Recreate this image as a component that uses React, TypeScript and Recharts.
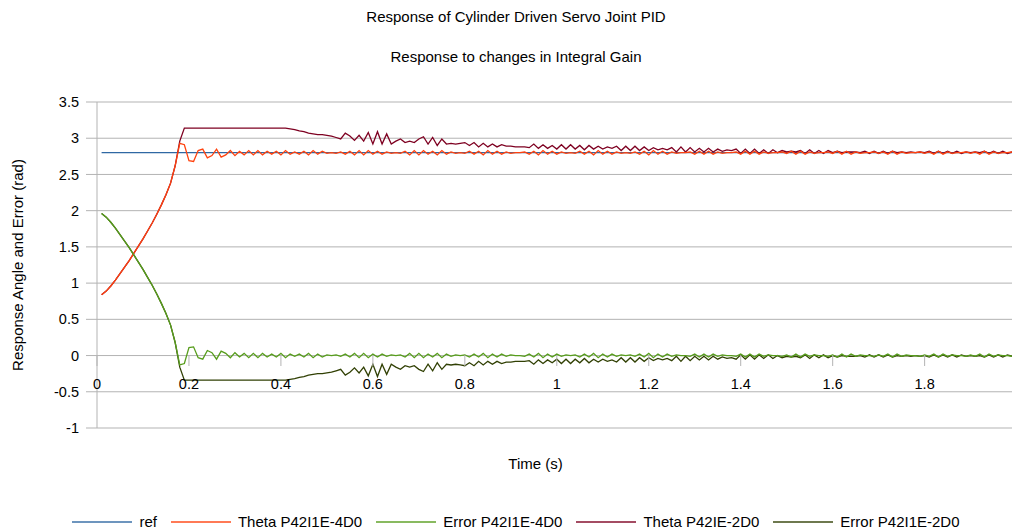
import React from 'react';
import { LineChart, Line, XAxis, YAxis, CartesianGrid, Label } from 'recharts';

// time samples (s)
const time = [
  0.01, 0.02, 0.03, 0.04, 0.05, 0.06, 0.07, 0.08, 0.09, 0.1,
  0.11, 0.12, 0.13, 0.14, 0.15, 0.16, 0.17, 0.18, 0.19, 0.2,
  0.21, 0.22, 0.23, 0.24, 0.25, 0.26, 0.27, 0.28, 0.29, 0.3,
  0.31, 0.32, 0.33, 0.34, 0.35, 0.36, 0.37, 0.38, 0.39, 0.4,
  0.41, 0.42, 0.43, 0.44, 0.45, 0.46, 0.47, 0.48, 0.49, 0.5,
  0.51, 0.52, 0.53, 0.54, 0.55, 0.56, 0.57, 0.58, 0.59, 0.6,
  0.61, 0.62, 0.63, 0.64, 0.65, 0.66, 0.67, 0.68, 0.69, 0.7,
  0.71, 0.72, 0.73, 0.74, 0.75, 0.76, 0.77, 0.78, 0.79, 0.8,
  0.81, 0.82, 0.83, 0.84, 0.85, 0.86, 0.87, 0.88, 0.89, 0.9,
  0.91, 0.92, 0.93, 0.94, 0.95, 0.96, 0.97, 0.98, 0.99, 1.0,
  1.01, 1.02, 1.03, 1.04, 1.05, 1.06, 1.07, 1.08, 1.09, 1.1,
  1.11, 1.12, 1.13, 1.14, 1.15, 1.16, 1.17, 1.18, 1.19, 1.2,
  1.21, 1.22, 1.23, 1.24, 1.25, 1.26, 1.27, 1.28, 1.29, 1.3,
  1.31, 1.32, 1.33, 1.34, 1.35, 1.36, 1.37, 1.38, 1.39, 1.4,
  1.41, 1.42, 1.43, 1.44, 1.45, 1.46, 1.47, 1.48, 1.49, 1.5,
  1.51, 1.52, 1.53, 1.54, 1.55, 1.56, 1.57, 1.58, 1.59, 1.6,
  1.61, 1.62, 1.63, 1.64, 1.65, 1.66, 1.67, 1.68, 1.69, 1.7,
  1.71, 1.72, 1.73, 1.74, 1.75, 1.76, 1.77, 1.78, 1.79, 1.8,
  1.81, 1.82, 1.83, 1.84, 1.85, 1.86, 1.87, 1.88, 1.89, 1.9,
  1.91, 1.92, 1.93, 1.94, 1.95, 1.96, 1.97, 1.98, 1.99,
];

// ref
const refAngle = [
  2.8, 2.8, 2.8, 2.8, 2.8, 2.8, 2.8, 2.8, 2.8, 2.8,
  2.8, 2.8, 2.8, 2.8, 2.8, 2.8, 2.8, 2.8, 2.8, 2.8,
  2.8, 2.8, 2.8, 2.8, 2.8, 2.8, 2.8, 2.8, 2.8, 2.8,
  2.8, 2.8, 2.8, 2.8, 2.8, 2.8, 2.8, 2.8, 2.8, 2.8,
  2.8, 2.8, 2.8, 2.8, 2.8, 2.8, 2.8, 2.8, 2.8, 2.8,
  2.8, 2.8, 2.8, 2.8, 2.8, 2.8, 2.8, 2.8, 2.8, 2.8,
  2.8, 2.8, 2.8, 2.8, 2.8, 2.8, 2.8, 2.8, 2.8, 2.8,
  2.8, 2.8, 2.8, 2.8, 2.8, 2.8, 2.8, 2.8, 2.8, 2.8,
  2.8, 2.8, 2.8, 2.8, 2.8, 2.8, 2.8, 2.8, 2.8, 2.8,
  2.8, 2.8, 2.8, 2.8, 2.8, 2.8, 2.8, 2.8, 2.8, 2.8,
  2.8, 2.8, 2.8, 2.8, 2.8, 2.8, 2.8, 2.8, 2.8, 2.8,
  2.8, 2.8, 2.8, 2.8, 2.8, 2.8, 2.8, 2.8, 2.8, 2.8,
  2.8, 2.8, 2.8, 2.8, 2.8, 2.8, 2.8, 2.8, 2.8, 2.8,
  2.8, 2.8, 2.8, 2.8, 2.8, 2.8, 2.8, 2.8, 2.8, 2.8,
  2.8, 2.8, 2.8, 2.8, 2.8, 2.8, 2.8, 2.8, 2.8, 2.8,
  2.8, 2.8, 2.8, 2.8, 2.8, 2.8, 2.8, 2.8, 2.8, 2.8,
  2.8, 2.8, 2.8, 2.8, 2.8, 2.8, 2.8, 2.8, 2.8, 2.8,
  2.8, 2.8, 2.8, 2.8, 2.8, 2.8, 2.8, 2.8, 2.8, 2.8,
  2.8, 2.8, 2.8, 2.8, 2.8, 2.8, 2.8, 2.8, 2.8, 2.8,
  2.8, 2.8, 2.8, 2.8, 2.8, 2.8, 2.8, 2.8, 2.8,
];

// Theta P42I1E-4D0
const thetaI1E4 = [
  0.84, 0.89, 0.96, 1.04, 1.13, 1.22, 1.31, 1.41, 1.51, 1.61,
  1.72, 1.83, 1.95, 2.08, 2.22, 2.38, 2.62, 2.93, 2.91, 2.69,
  2.68, 2.83, 2.85, 2.73, 2.76, 2.85, 2.74, 2.77, 2.83, 2.76,
  2.82, 2.77, 2.83, 2.77, 2.83, 2.77, 2.82, 2.78, 2.82, 2.77,
  2.83, 2.78, 2.81, 2.78, 2.82, 2.77, 2.83, 2.78, 2.82, 2.79,
  2.80, 2.79, 2.81, 2.78, 2.82, 2.77, 2.83, 2.77, 2.83, 2.78,
  2.82, 2.78, 2.81, 2.79, 2.80, 2.79, 2.82, 2.77, 2.83, 2.77,
  2.83, 2.78, 2.82, 2.77, 2.83, 2.78, 2.81, 2.79, 2.80, 2.79,
  2.82, 2.78, 2.82, 2.77, 2.83, 2.78, 2.82, 2.78, 2.81, 2.79,
  2.80, 2.80, 2.81, 2.78, 2.82, 2.77, 2.83, 2.78, 2.82, 2.78,
  2.81, 2.79, 2.80, 2.79, 2.82, 2.78, 2.82, 2.77, 2.83, 2.78,
  2.82, 2.78, 2.81, 2.79, 2.80, 2.79, 2.81, 2.78, 2.82, 2.77,
  2.83, 2.78, 2.82, 2.78, 2.81, 2.79, 2.80, 2.80, 2.81, 2.78,
  2.82, 2.78, 2.82, 2.78, 2.81, 2.79, 2.80, 2.80, 2.81, 2.78,
  2.82, 2.78, 2.82, 2.78, 2.81, 2.79, 2.80, 2.80, 2.81, 2.79,
  2.82, 2.78, 2.82, 2.78, 2.81, 2.79, 2.80, 2.80, 2.81, 2.79,
  2.82, 2.78, 2.82, 2.78, 2.81, 2.79, 2.80, 2.80, 2.81, 2.79,
  2.81, 2.78, 2.82, 2.78, 2.81, 2.79, 2.80, 2.80, 2.81, 2.79,
  2.81, 2.78, 2.82, 2.78, 2.81, 2.79, 2.80, 2.80, 2.81, 2.79,
  2.81, 2.78, 2.82, 2.78, 2.81, 2.79, 2.80, 2.80, 2.81,
];

// Error P42I1E-4D0
const errorI1E4 = [
  1.96, 1.91, 1.84, 1.76, 1.67, 1.58, 1.49, 1.39, 1.29, 1.19,
  1.08, 0.97, 0.85, 0.72, 0.58, 0.42, 0.18, -0.13, -0.11, 0.11,
  0.12, -0.03, -0.05, 0.07, 0.04, -0.05, 0.06, 0.03, -0.03, 0.04,
  -0.02, 0.03, -0.03, 0.03, -0.03, 0.03, -0.02, 0.02, -0.02, 0.03,
  -0.03, 0.02, -0.01, 0.02, -0.02, 0.03, -0.03, 0.02, -0.02, 0.01,
  0.0, 0.01, -0.01, 0.02, -0.02, 0.03, -0.03, 0.03, -0.03, 0.02,
  -0.02, 0.02, -0.01, 0.01, 0.0, 0.01, -0.02, 0.03, -0.03, 0.03,
  -0.03, 0.02, -0.02, 0.03, -0.03, 0.02, -0.01, 0.01, 0.0, 0.01,
  -0.02, 0.02, -0.02, 0.03, -0.03, 0.02, -0.02, 0.02, -0.01, 0.01,
  0.0, 0.0, -0.01, 0.02, -0.02, 0.03, -0.03, 0.02, -0.02, 0.02,
  -0.01, 0.01, 0.0, 0.01, -0.02, 0.02, -0.02, 0.03, -0.03, 0.02,
  -0.02, 0.02, -0.01, 0.01, 0.0, 0.01, -0.01, 0.02, -0.02, 0.03,
  -0.03, 0.02, -0.02, 0.02, -0.01, 0.01, 0.0, 0.0, -0.01, 0.02,
  -0.02, 0.02, -0.02, 0.02, -0.01, 0.01, 0.0, 0.0, -0.01, 0.02,
  -0.02, 0.02, -0.02, 0.02, -0.01, 0.01, 0.0, 0.0, -0.01, 0.01,
  -0.02, 0.02, -0.02, 0.02, -0.01, 0.01, 0.0, 0.0, -0.01, 0.01,
  -0.02, 0.02, -0.02, 0.02, -0.01, 0.01, 0.0, 0.0, -0.01, 0.01,
  -0.01, 0.02, -0.02, 0.02, -0.01, 0.01, 0.0, 0.0, -0.01, 0.01,
  -0.01, 0.02, -0.02, 0.02, -0.01, 0.01, 0.0, 0.0, -0.01, 0.01,
  -0.01, 0.02, -0.02, 0.02, -0.01, 0.01, 0.0, 0.0, -0.01,
];

// Theta P42IE-2D0
const thetaIE2 = [
  0.84, 0.89, 0.96, 1.04, 1.13, 1.22, 1.31, 1.41, 1.51, 1.61,
  1.72, 1.83, 1.95, 2.08, 2.22, 2.38, 2.62, 2.96, 3.14, 3.14,
  3.14, 3.14, 3.14, 3.14, 3.14, 3.14, 3.14, 3.14, 3.14, 3.14,
  3.14, 3.14, 3.14, 3.14, 3.14, 3.14, 3.14, 3.14, 3.14, 3.14,
  3.14, 3.13, 3.12, 3.10, 3.09, 3.07, 3.06, 3.05, 3.05, 3.04,
  3.03, 3.01, 2.99, 3.07, 3.03, 2.97, 3.04, 2.96, 3.08, 2.92,
  3.09, 2.92, 3.06, 2.92, 2.96, 2.99, 2.94, 2.96, 2.94, 2.99,
  3.02, 2.92, 3.01, 2.90, 2.99, 2.92, 2.93, 2.92, 2.93, 2.94,
  2.90, 2.94, 2.88, 2.93, 2.88, 2.92, 2.88, 2.91, 2.89, 2.89,
  2.88, 2.88, 2.88, 2.87, 2.92, 2.86, 2.91, 2.86, 2.90, 2.85,
  2.91, 2.85, 2.91, 2.85, 2.90, 2.84, 2.90, 2.85, 2.89, 2.85,
  2.88, 2.86, 2.89, 2.83, 2.89, 2.83, 2.89, 2.83, 2.88, 2.83,
  2.87, 2.84, 2.86, 2.84, 2.87, 2.81, 2.88, 2.81, 2.87, 2.81,
  2.86, 2.81, 2.86, 2.81, 2.85, 2.82, 2.84, 2.83, 2.85, 2.79,
  2.85, 2.79, 2.85, 2.79, 2.84, 2.79, 2.84, 2.80, 2.83, 2.81,
  2.82, 2.81, 2.83, 2.79, 2.84, 2.79, 2.83, 2.79, 2.83, 2.80,
  2.82, 2.80, 2.81, 2.81, 2.81, 2.80, 2.82, 2.79, 2.82, 2.79,
  2.82, 2.79, 2.82, 2.80, 2.81, 2.80, 2.81, 2.80, 2.81, 2.80,
  2.82, 2.79, 2.82, 2.79, 2.82, 2.79, 2.82, 2.79, 2.81, 2.80,
  2.81, 2.80, 2.82, 2.79, 2.82, 2.79, 2.82, 2.79, 2.81,
];

// Error P42I1E-2D0
const errorI1E2 = [
  1.96, 1.91, 1.84, 1.76, 1.67, 1.58, 1.49, 1.39, 1.29, 1.19,
  1.08, 0.97, 0.85, 0.72, 0.58, 0.42, 0.18, -0.16, -0.34, -0.34,
  -0.34, -0.34, -0.34, -0.34, -0.34, -0.34, -0.34, -0.34, -0.34, -0.34,
  -0.34, -0.34, -0.34, -0.34, -0.34, -0.34, -0.34, -0.34, -0.34, -0.34,
  -0.34, -0.33, -0.32, -0.30, -0.29, -0.27, -0.26, -0.25, -0.25, -0.24,
  -0.23, -0.21, -0.19, -0.27, -0.23, -0.17, -0.24, -0.16, -0.28, -0.12,
  -0.29, -0.12, -0.26, -0.12, -0.16, -0.19, -0.14, -0.16, -0.14, -0.19,
  -0.22, -0.12, -0.21, -0.10, -0.19, -0.12, -0.13, -0.12, -0.13, -0.14,
  -0.10, -0.14, -0.08, -0.13, -0.08, -0.12, -0.08, -0.11, -0.09, -0.09,
  -0.08, -0.08, -0.08, -0.07, -0.12, -0.06, -0.11, -0.06, -0.10, -0.05,
  -0.11, -0.05, -0.11, -0.05, -0.10, -0.04, -0.10, -0.05, -0.09, -0.05,
  -0.08, -0.06, -0.09, -0.03, -0.09, -0.03, -0.09, -0.03, -0.08, -0.03,
  -0.07, -0.04, -0.06, -0.04, -0.07, -0.01, -0.08, -0.01, -0.07, -0.01,
  -0.06, -0.01, -0.06, -0.01, -0.05, -0.02, -0.04, -0.03, -0.05, 0.01,
  -0.05, 0.01, -0.05, 0.01, -0.04, 0.01, -0.04, 0.0, -0.03, -0.01,
  -0.02, -0.01, -0.03, 0.01, -0.04, 0.01, -0.03, 0.01, -0.03, 0.0,
  -0.02, 0.0, -0.01, -0.01, -0.01, 0.0, -0.02, 0.01, -0.02, 0.01,
  -0.02, 0.01, -0.02, 0.0, -0.01, 0.0, -0.01, 0.0, -0.01, 0.0,
  -0.02, 0.01, -0.02, 0.01, -0.02, 0.01, -0.02, 0.01, -0.01, 0.0,
  -0.01, 0.0, -0.02, 0.01, -0.02, 0.01, -0.02, 0.01, -0.01,
];

const xTicks = [0, 0.2, 0.4, 0.6, 0.8, 1, 1.2, 1.4, 1.6, 1.8];
const yTicks = [-1, -0.5, 0, 0.5, 1, 1.5, 2, 2.5, 3, 3.5];

const chartTitle = 'Response of Cylinder Driven Servo Joint PID';
const chartSubtitle = 'Response to changes in Integral Gain';
const xTitle = 'Time (s)';
const yTitle = 'Response Angle and Error (rad)';

// legend order
const series = [
  { key: 'ref', name: 'ref', color: '#2f68a3' },
  { key: 'th4', name: 'Theta P42I1E-4D0', color: '#ff420e' },
  { key: 'er4', name: 'Error P42I1E-4D0', color: '#579d1c' },
  { key: 'th2', name: 'Theta P42IE-2D0', color: '#7e0021' },
  { key: 'er2', name: 'Error P42I1E-2D0', color: '#314004' },
];
// drawing order (bottom to top)
const drawOrder = ['ref', 'th2', 'er2', 'th4', 'er4'];

const data = time.map((t, i) => ({
  t,
  ref: refAngle[i],
  th4: thetaI1E4[i],
  er4: errorI1E4[i],
  th2: thetaIE2[i],
  er2: errorI1E2[i],
}));

const FONT = '"Liberation Sans", Arial, sans-serif';
const GRID = '#b3b3b3';
const TEXT = '#000000';

const XTick = (props: any) => {
  const { x, y, payload } = props;
  const lift = 73; // from bottom gridline (-1) up to the zero line
  const y0 = y - lift;
  return (
    <g>
      <line x1={x} x2={x} y1={y0} y2={y0 + 11} stroke={GRID} strokeWidth={1} />
      <text x={x} y={y0 + 29} textAnchor="middle" dominantBaseline="central" fontSize={14.5} fontFamily={FONT} fill={TEXT}>
        {payload.value}
      </text>
    </g>
  );
};

export default function App() {
  return (
    <div style={{ position: 'absolute', left: 0, top: 0, width: 1012, height: 530, background: '#fff', fontFamily: FONT }}>
      <div style={{ position: 'absolute', left: 0, width: 1032, top: 8, textAlign: 'center', fontSize: 15, color: TEXT, lineHeight: '18px' }}>
        {chartTitle}
      </div>
      <div style={{ position: 'absolute', left: 0, width: 1032, top: 48, textAlign: 'center', fontSize: 15, color: TEXT, lineHeight: '18px' }}>
        {chartSubtitle}
      </div>
      <LineChart width={1012} height={530} data={data} margin={{ top: 102, right: 0, bottom: 0, left: 0 }}>
        <CartesianGrid vertical={false} stroke={GRID} strokeWidth={1} />
        <XAxis
          dataKey="t"
          type="number"
          domain={[0, 1.99]}
          ticks={xTicks}
          height={102}
          axisLine={false}
          tickLine={false}
          tickSize={0}
          tickMargin={0}
          tick={<XTick />}
          interval={0}
        >
          <Label
            content={(p: any) => {
              const vb = p.viewBox || {};
              return (
                <text x={vb.x + vb.width / 2 - 19} y={vb.y + 35} textAnchor="middle" dominantBaseline="central" fontSize={15} fontFamily={FONT} fill={TEXT}>
                  {xTitle}
                </text>
              );
            }}
          />
        </XAxis>
        <YAxis
          type="number"
          domain={[-1, 3.5]}
          ticks={yTicks}
          width={97}
          stroke={GRID}
          tickSize={11}
          tickMargin={7}
          tickLine={{ stroke: GRID }}
          axisLine={{ stroke: GRID }}
          tick={{ fontSize: 14.5, fontFamily: FONT, fill: TEXT }}
          interval={0}
        >
          <Label
            content={(p: any) => {
              const vb = p.viewBox || {};
              const cx = vb.x + 17;
              const cy = vb.y + vb.height / 2;
              return (
                <text x={cx} y={cy} transform={`rotate(-90 ${cx} ${cy})`} textAnchor="middle" dominantBaseline="central" fontSize={15} fontFamily={FONT} fill={TEXT}>
                  {yTitle}
                </text>
              );
            }}
          />
        </YAxis>
        {drawOrder.map((k) => {
          const s = series.find((d) => d.key === k)!;
          return (
            <Line
              key={s.key}
              type="linear"
              dataKey={s.key}
              name={s.name}
              stroke={s.color}
              strokeWidth={1.3}
              dot={false}
              activeDot={false}
              isAnimationActive={false}
            />
          );
        })}
      </LineChart>
      <div
        style={{
          position: 'absolute',
          left: 20,
          width: 992,
          top: 512,
          height: 20,
          display: 'flex',
          justifyContent: 'center',
          alignItems: 'center',
          fontSize: 15,
          color: TEXT,
        }}
      >
        {series.map((s, i) => (
          <div key={s.key} style={{ display: 'flex', alignItems: 'center', marginLeft: i === 0 ? 0 : 14 }}>
            <svg width={60} height={6} style={{ display: 'block' }}>
              <line x1={0} x2={60} y1={3} y2={3} stroke={s.color} strokeWidth={2} strokeOpacity={0.7} />
            </svg>
            <span style={{ marginLeft: 7, whiteSpace: 'nowrap', lineHeight: '18px' }}>{s.name}</span>
          </div>
        ))}
      </div>
    </div>
  );
}
